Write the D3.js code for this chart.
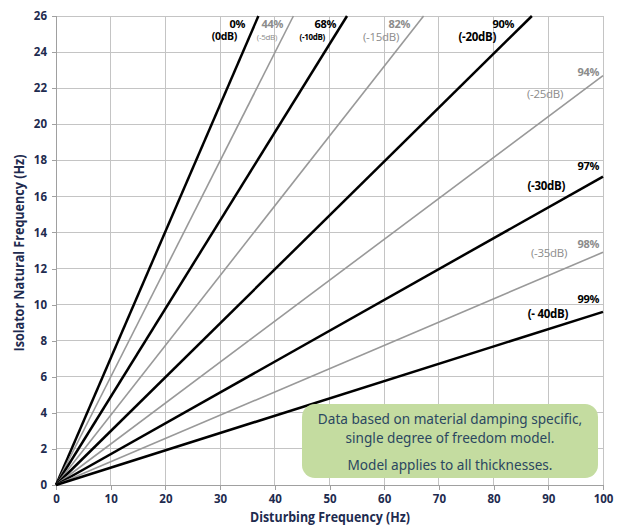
<!DOCTYPE html>
<html><head><meta charset="utf-8">
<script src="https://cdn.jsdelivr.net/npm/d3@7"></script>
<style>body{margin:0;background:#fff}svg{display:block}</style>
</head><body><svg id="c" width="618" height="527"></svg>
<script>
// Data
const lineNames   = ["0%","44%","68%","82%","90%","94%","97%","98%","99%"];
const lineDb      = ["(0dB)","(-5dB)","(-10dB)","(-15dB)","(-20dB)","(-25dB)","(-30dB)","(-35dB)","(- 40dB)"];
// end point of each straight line starting at the origin
const lineEndX    = [37.0, 43.4, 53.2, 67.2, 87.0, 100, 100, 100, 100];
const lineEndY    = [26, 26, 26, 26, 26, 22.7, 17.1, 12.9, 9.6];
const lineDark    = [true,false,true,false,true,false,true,false,true];
const xTicks = [0,10,20,30,40,50,60,70,80,90,100];
const yTicks = [0,2,4,6,8,10,12,14,16,18,20,22,24,26];
const noteLines = ["Data based on material damping specific,","single degree of freedom model.","Model applies to all thicknesses."];

const svg = d3.select("#c");
const x = d3.scaleLinear().domain([0,100]).range([56, 603]);
const y = d3.scaleLinear().domain([0,26]).range([485, 16]);
const navy = "#1e2b4f";
const font = "'Open Sans', 'DejaVu Sans', sans-serif";

// grid
svg.append("g").selectAll("line").data(xTicks.slice(1)).join("line")
  .attr("x1",d=>x(d)).attr("x2",d=>x(d)).attr("y1",y(0)).attr("y2",y(26))
  .attr("stroke","#c4c4c4").attr("stroke-width",1).attr("shape-rendering","crispEdges");
svg.append("g").selectAll("line").data(yTicks.slice(1)).join("line")
  .attr("x1",x(0)).attr("x2",x(100)).attr("y1",d=>y(d)).attr("y2",d=>y(d))
  .attr("stroke","#c4c4c4").attr("stroke-width",1).attr("shape-rendering","crispEdges");

// axes
const xa = svg.append("g").attr("transform",`translate(0,${y(0)})`)
  .call(d3.axisBottom(x).tickValues(xTicks).tickSize(5).tickPadding(5));
const ya = svg.append("g").attr("transform",`translate(${x(0)},0)`)
  .call(d3.axisLeft(y).tickValues(yTicks).tickSize(4).tickPadding(5));
[xa,ya].forEach(a=>{
  a.selectAll("path,line").attr("stroke","#a0a0a0").attr("shape-rendering","crispEdges");
  a.selectAll("text").attr("fill",navy).attr("font-family",font).attr("font-weight",700).attr("font-size",11.5);
});

// lines
const data = lineNames.map((n,i)=>({n, db:lineDb[i], ex:lineEndX[i], ey:lineEndY[i], dark:lineDark[i]}));
svg.append("g").selectAll("line").data(data).join("line")
  .attr("x1",x(0)).attr("y1",y(0)).attr("x2",d=>x(d.ex)).attr("y2",d=>y(d.ey))
  .attr("stroke",d=>d.dark?"#000":"#999").attr("stroke-width",d=>d.dark?2.5:1.6);

// labels: [pct x(right), pct baseline, db x(right), db baseline, db font size]
const labPos = [
  [245,28, 237,40, 10.5],
  [283,28, 277,40, 8],
  [336,28, 325,40, 8],
  [410,28, 399,41, 11.5],
  [514,28, 496,41, 11.5],
  [599,76, 563,98, 11.5],
  [599,170, 565,190, 11.5],
  [599,248, 567,257, 11.5],
  [599,303, 568,318, 11.5]
];
const lg = svg.append("g").attr("font-family",font);
data.forEach((d,i)=>{
  const p = labPos[i], c = d.dark?"#000":"#8c8c8c";
  lg.append("text").attr("x",p[0]).attr("y",p[1]).attr("text-anchor","end")
    .attr("font-size",11).attr("font-weight",700).attr("fill",c).attr("letter-spacing",-0.3).text(d.n);
  lg.append("text").attr("x",p[2]).attr("y",p[3]).attr("text-anchor","end")
    .attr("font-size",p[4]).attr("font-weight",d.dark?700:400).attr("fill",c).attr("letter-spacing",-0.3).text(d.db);
});

// axis titles
svg.append("text").attr("x",330).attr("y",522).attr("text-anchor","middle")
  .attr("font-family",font).attr("font-weight",700).attr("font-size",14)
  .attr("textLength",160).attr("lengthAdjust","spacingAndGlyphs")
  .attr("fill",navy).text("Disturbing Frequency (Hz)");
svg.append("text").attr("transform","translate(24,253) rotate(-90)").attr("text-anchor","middle")
  .attr("font-family",font).attr("font-weight",700).attr("font-size",14)
  .attr("textLength",197).attr("lengthAdjust","spacingAndGlyphs")
  .attr("fill",navy).text("Isolator Natural Frequency (Hz)");

// note box
svg.append("rect").attr("x",302).attr("y",404).attr("width",296).attr("height",74).attr("rx",13)
  .attr("fill","#c4dca0");
const nb = [424,443,470];
svg.append("g").selectAll("text").data(noteLines).join("text")
  .attr("x",450).attr("y",(d,i)=>nb[i]).attr("text-anchor","middle")
  .attr("font-family","'Noto Sans', sans-serif").attr("font-size",13.6).attr("fill","#2b4760").text(d=>d);
</script></body></html>
